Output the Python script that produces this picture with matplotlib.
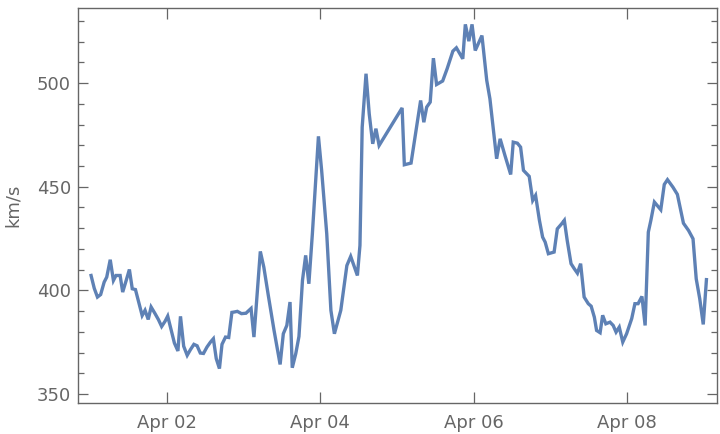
import pandas as pd
import matplotlib
matplotlib.use("Agg")
import matplotlib.pyplot as plt
import matplotlib.dates as mdates
from matplotlib.ticker import MultipleLocator

# horas desde 2024-04-01 00:00 y velocidad (km/s)
horas = [0.2, 1.2, 2.2, 3.2, 4.3, 5.1, 6.2, 7.2, 8.0, 9.3, 10.1, 11.2, 12.2, 13.1, 14.1,
         15.1, 16.2, 17.1, 18.1, 19.0, 20.2, 21.3, 22.3, 23.4, 24.2, 25.3, 26.3, 27.4,
         28.2, 29.2, 30.3, 31.3, 32.4, 33.4, 34.4, 35.4, 36.5, 37.6, 38.5, 39.4, 40.4,
         41.2, 42.3, 43.3, 44.3, 45.1, 46.0, 47.3, 48.7, 50.3, 51.2, 53.2, 54.3, 55.7,
         57.5, 59.4, 60.4, 61.5, 62.5, 63.2, 64.3, 65.3, 66.4, 67.4, 68.4, 69.5, 71.4,
         72.4, 74.0, 75.3, 76.4, 78.4, 80.3, 81.5, 83.6, 84.4, 85.1, 86.3, 87.3, 88.4,
         89.4, 90.4, 97.6, 98.3, 100.4, 103.4, 104.4, 105.3, 106.4, 107.4, 108.4, 110.3,
         111.7, 113.5, 114.6, 116.6, 117.4, 118.5, 119.5, 120.5, 122.6, 124.1, 125.1,
         126.2, 127.2, 128.3, 129.8, 131.6, 132.4, 133.7, 134.7, 135.6, 137.4, 138.5,
         139.4, 140.6, 141.6, 142.4, 143.4, 145.2, 146.2, 147.6, 148.4, 149.3, 150.5,
         151.5, 152.5, 153.5, 154.6, 155.9, 156.8, 157.8, 158.5, 159.6, 160.4, 161.4,
         162.7, 163.7, 164.6, 165.6, 166.7, 167.9, 169.5, 170.5, 171.5, 172.7, 173.7,
         174.7, 175.5, 176.6, 178.6, 179.7, 180.7, 182.4, 183.8, 185.7, 187.3, 188.7,
         189.7, 190.8, 191.9, 192.9]

velocidad = [407.2, 401.0, 396.8, 398.0, 404.0, 406.4, 414.8, 404.8, 407.2, 407.2, 399.2,
             404.8, 410.1, 400.8, 400.4, 394.4, 387.9, 390.4, 386.0, 392.0, 388.9, 385.9,
             382.6, 385.2, 387.6, 380.7, 374.6, 370.8, 387.5, 373.1, 368.7, 371.4, 374.0,
             373.3, 369.8, 369.6, 372.7, 375.1, 376.7, 367.1, 362.3, 374.0, 377.5, 377.3,
             389.4, 389.6, 389.9, 388.8, 389.0, 391.3, 377.5, 418.8, 411.2, 397.6, 380.7,
             364.3, 379.1, 383.1, 394.4, 362.7, 369.5, 377.8, 404.8, 416.9, 403.2, 427.3,
             474.3, 457.9, 427.3, 390.4, 379.1, 390.4, 412.0, 416.4, 407.2, 421.7, 478.7,
             504.5, 485.2, 470.7, 478.0, 469.9, 488.0, 460.6, 461.4, 491.6, 481.1, 488.4,
             490.8, 512.0, 499.3, 501.0, 506.9, 515.4, 517.0, 511.7, 528.3, 520.2, 528.3,
             515.7, 522.9, 501.3, 492.4, 477.1, 463.5, 473.1, 465.1, 455.9, 471.5, 471.0,
             469.1, 457.9, 455.0, 443.4, 445.8, 433.8, 425.7, 423.3, 417.7, 418.5, 429.7,
             432.2, 433.8, 424.1, 412.9, 410.5, 408.3, 412.9, 396.8, 393.6, 392.4, 387.1,
             380.7, 379.6, 388.0, 383.9, 384.7, 383.1, 379.9, 382.3, 375.1, 379.1, 386.4,
             393.6, 393.6, 397.1, 383.1, 428.1, 433.8, 442.6, 438.9, 451.1, 453.4, 449.8,
             446.3, 432.4, 428.9, 424.9, 405.6, 396.0, 383.6, 405.2]

inicio = pd.Timestamp("2024-04-01")
fechas = inicio + pd.to_timedelta(horas, unit="h")

gris = "#666666"
color_linea = "#5e81b5"

fig = plt.figure(figsize=(7.2, 4.34), dpi=100)
ax = fig.add_axes([0.1083, 0.0714, 0.8875, 0.9102])

ax.plot(fechas, velocidad, color=color_linea, linewidth=2.4, solid_joinstyle="miter")

ax.set_xlim(inicio + pd.Timedelta(hours=-3.9), inicio + pd.Timedelta(hours=196.2))
ax.set_ylim(345.7, 536.2)

ax.xaxis.set_major_locator(mdates.DayLocator(bymonthday=[2, 4, 6, 8]))
ax.xaxis.set_major_formatter(mdates.DateFormatter("%b %d"))
ax.yaxis.set_major_locator(MultipleLocator(50))
ax.yaxis.set_minor_locator(MultipleLocator(10))

for s in ax.spines.values():
    s.set_color(gris)
    s.set_linewidth(1.0)

ax.tick_params(axis="both", which="both", direction="in", color=gris,
               top=True, right=True, labelcolor=gris, labelsize=13, width=0.9)
ax.tick_params(axis="x", which="major", length=8, pad=8)
ax.tick_params(axis="y", which="major", length=7, pad=5)
ax.tick_params(axis="y", which="minor", length=4)

ax.set_ylabel("km/s", color=gris, fontsize=13, labelpad=11)

plt.savefig("out.png", dpi=100)
